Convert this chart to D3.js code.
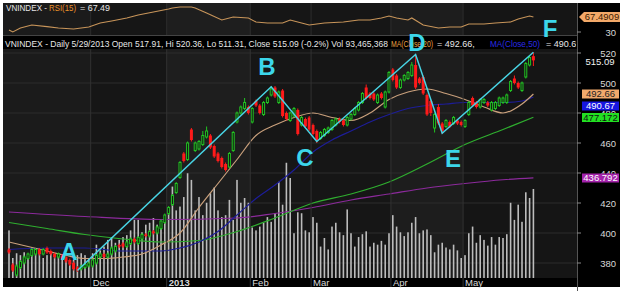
<!DOCTYPE html>
<html><head><meta charset="utf-8">
<script src="https://cdn.jsdelivr.net/npm/d3@7/dist/d3.min.js"></script>
<style>body{margin:0;background:#fff}svg{display:block}text{font-family:"Liberation Sans",Arial,sans-serif}</style>
</head><body>
<svg id="c" width="620" height="291"></svg>
<script>
// ---------- data ----------
const monthLabels = ["Nov","Dec","2013","Feb","Mar","Apr","May"];
const monthStart  = [0,22,42,64,80,101,120];
const priceTicks  = [380,400,420,440,460,480,500,520];

const openP = [389,379,372,377,380,383,385,386,389,386,390,388,386,384,385,384,382,380,377,376,377,378,
 378,380,384,386,384,386,388,392,393,391,393,396,393,396,399,398,401,400,403,407,
 413,419,427,437,453,449,469,455,456,459,464,465,458,453,450,446,444,455,474,480,483,484,
 474,488,485,479,487,492,497,487,495,480,475,478,482,472,476,477,
 472,468,463,465,467,469,472,476,475,472,476,479,482,487,497,493,493,487,493,484,494,
 509,505,497,502,503,505,512,503,504,492,488,470,484,473,471,474,473,475,474,
 471,479,490,487,484,487,487,482,483,485,487,487,495,503,500,495,504,512,517.91];
const closeP = [387,375,378,381,384,386,389,389,386,389,387,386,384,386,383,381,379,376,375,378,379,380,
 382,385,386,384,386,390,391,391,391,394,396,394,397,399,398,401,400,404,408,412,
 417,425,433,447,448,460,462,460,461,465,468,457,451,448,444,442,453,467,480,484,487,480,
 483,485,480,487,490,496,491,494,478,476,480,483,466,477,471,469,
 466,462,467,469,470,475,476,474,472,477,479,483,487,493,490,490,489,492,490,494,507,
 502,497,502,505,507,512,497,500,493,479,480,479,473,468,475,471,477,473,472,
 475,487,485,484,489,489,485,487,487,490,490,492,501,500,497,500,513,517,515.09];
const highP = [390,380,379,382,385,387,390,390,390,390,391,389,387,387,386,385,383,381,378,379,380,381,
 383,386,387,387,387,391,392,393,394,395,397,397,398,400,400,402,402,405,409,413,
 418,426,434,448,454,461,470,461,462,468,471,466,459,454,451,447,454,468,481,485,490,485,
 484,489,486,488,491,498,498,495,496,481,481,484,483,478,477,478,
 473,469,468,470,471,476,477,477,476,478,480,484,488,494,499,494,494,493,494,495,508,
 510,506,503,506,508,514,519,504,505,493,489,480,486,474,476,475,478,476,475,
 476,488,491,488,490,490,488,488,488,491,491,493,502,505,501,501,514,518,520.36];
const lowP = [386,374,371,376,379,382,384,385,385,385,386,385,383,383,382,380,378,375,374,375,376,377,
 377,379,383,383,383,385,387,390,390,390,392,393,392,395,397,397,399,399,402,406,
 412,418,426,436,447,448,461,454,455,458,463,456,450,447,443,441,443,454,473,479,482,479,
 473,484,479,478,486,491,490,486,477,475,474,477,465,471,470,468,
 465,460,462,464,466,468,471,473,471,471,475,478,481,486,489,489,488,486,489,483,493,
 501,496,496,501,502,504,496,499,492,478,478,467,472,466,470,470,472,472,471,
 470,478,484,483,483,486,484,481,482,484,486,486,494,499,496,494,503,511,511.31];
const volume = [50,21,26,24,27,24,32,27,29,21,24,26,24,26,21,19,14,19,24,26,24,21,
 26,35,29,33,40,43,37,40,43,45,50,61,61,48,56,58,63,56,59,59,
 71,96,71,75,85,110,103,71,85,66,79,89,95,71,64,66,82,61,103,79,84,79,
 53,50,54,58,64,59,68,101,77,121,105,47,69,68,50,48,
 64,58,33,42,30,54,58,48,45,72,47,33,43,46,49,33,37,35,39,35,47,
 66,54,48,44,48,58,64,47,50,51,45,27,35,37,32,30,35,29,21,
 24,47,54,37,45,40,34,43,35,43,42,46,79,61,77,59,90,84,93.47];

const ma20Idx = [0,5,10,15,20,25,30,35,40,45,50,55,60,65,70,75,80,85,90,95,100,105,110,115,120,125,130,135,138];
const ma20Val = [394,391,388,385,383,383,384,386,392,400,417,433,449,465,472,477,480,477,475,480,489,494,496,493,489,484,480,486,492.66];
const ma50Idx = [0,10,20,30,40,45,50,55,60,65,70,75,80,85,90,95,100,105,110,115,120,125,130,135,138];
const ma50Val = [389,390,390,388,388,390,394,401,412,423,432,442,454,462,468,474,479,483,485,486,487,487,487,488,490.67];
const ma100Idx = [0,10,20,30,40,50,60,70,80,90,100,110,120,130,138];
const ma100Val = [407,403,399,396,394,395,401,410,420,426,434,446,459,469,477.172];
const ma200Idx = [0,20,40,60,70,80,90,100,110,120,130,138];
const ma200Val = [414,411,409,410,413,417,422,426,430,433,435.5,436.792];

const rsiIdx = [0,1,3,6,10,13,17,21,24,27,31,34,38,42,43,45,48,49,52,56,59,63,65,68,72,74,77,79,83,88,92,95,98,100,102,105,106,109,113,116,119,121,125,128,132,134,137,138];
const rsiVal = [35,30,40,47.5,43.5,40,37.5,42.5,52.5,57.5,65,72.5,80,87.5,90,92.5,92.5,90,77.5,60,67.5,65,55,52.5,52.5,60,52.5,47.5,52.5,55,60,60,65,70,65,60,65,47.5,40,42.5,42.5,50,50,52.5,55,62.5,70,67.49];

const waveLabels = ["A","B","C","D","E","F"];
const waveIdx = [18,69,81,107,114,138];
const waveVal = [375,497.5,461,519,466.5,520.5];

// ---------- layout ----------
const svg = d3.select("#c");
const PL=3, PR=577, RT=3, RB=35, PT=49, PB=278, AB=287;
const x = d3.scaleLinear().domain([0,138]).range([9,533.4]);
const y = d3.scaleLinear().domain([380,520]).range([263,53]);
const yv = d3.scaleLinear().domain([0,105]).range([PB,178]);
const yr = d3.scaleLinear().domain([30,67.49]).range([32,17]);

svg.append("rect").attr("x",PL).attr("y",RT).attr("width",620-PL).attr("height",AB-RT).attr("fill","#000");

const defs = svg.append("defs");
defs.append("clipPath").attr("id","cp").append("rect").attr("x",PL).attr("y",PT).attr("width",PR-PL).attr("height",PB-PT);
defs.append("clipPath").attr("id","cr").append("rect").attr("x",PL).attr("y",RT).attr("width",PR-PL).attr("height",RB-RT);
defs.append("clipPath").attr("id","ch").append("rect").attr("x",PL).attr("y",RB).attr("width",PR-PL-1).attr("height",PT-RB);

// month bands
const bandFill = ["#1b1b1b","#161616","#1e1e1e","#161616","#161616","#1d1d1d","#151515"];
const bounds = monthStart.map((s,i)=> i===0 ? PL : x(s-0.5));
bounds.push(PR);
monthStart.forEach((s,i)=>{
  [[RT,RB-RT],[PT,PB-PT]].forEach(([yy,hh])=>{
    svg.append("rect").attr("x",bounds[i]).attr("y",yy).attr("width",bounds[i+1]-bounds[i]).attr("height",hh).attr("fill",bandFill[i]);
  });
});
// gridlines
const g = svg.append("g").attr("clip-path","url(#cp)");
priceTicks.forEach(t=>{
  g.append("line").attr("x1",PL).attr("x2",PR).attr("y1",y(t)).attr("y2",y(t)).attr("stroke","#2c2c2c").attr("stroke-width",1);
});
monthStart.slice(1).forEach(s=>{
  svg.append("line").attr("x1",x(s-0.5)).attr("x2",x(s-0.5)).attr("y1",RT).attr("y2",RB).attr("stroke","#2e2e2e");
  svg.append("line").attr("x1",x(s-0.5)).attr("x2",x(s-0.5)).attr("y1",PT).attr("y2",AB).attr("stroke","#333");
});

// volume
g.selectAll("rect.v").data(volume).join("rect").attr("class","v")
  .attr("x",(d,i)=>x(i)-0.8).attr("width",1.6)
  .attr("y",d=>yv(d)).attr("height",d=>PB-yv(d)).attr("fill","#bcbcbc");

// moving averages
const line = d3.line().x(d=>x(d[0])).y(d=>y(d[1])).curve(d3.curveMonotoneX);
const mas = [[ma200Idx,ma200Val,"#8c2a9c"],[ma100Idx,ma100Val,"#2fae2f"],[ma50Idx,ma50Val,"#1d1d98"],[ma20Idx,ma20Val,"#c9a07c"]];
mas.forEach(([ix,vv,c])=>{
  g.append("path").datum(ix.map((d,k)=>[d,vv[k]])).attr("d",line).attr("fill","none").attr("stroke",c).attr("stroke-width",1.2);
});

// candles
const up = "#22c322", dn = "#ff1a1a";
openP.forEach((o,i)=>{
  const c = closeP[i], isUp = c>=o, col = isUp?up:dn;
  g.append("line").attr("x1",x(i)).attr("x2",x(i)).attr("y1",y(highP[i])).attr("y2",y(lowP[i])).attr("stroke",col).attr("stroke-width",1);
  const top = y(Math.max(o,c)), bot = y(Math.min(o,c));
  if(isUp){
    g.append("rect").attr("x",x(i)-1).attr("y",top).attr("width",2).attr("height",Math.max(1,bot-top)).attr("fill","#111").attr("stroke",col).attr("stroke-width",1);
  } else {
    g.append("rect").attr("x",x(i)-1.5).attr("y",top).attr("width",3).attr("height",Math.max(1.5,bot-top)).attr("fill",col);
  }
});

// wave pattern
const wv = waveIdx.map((d,k)=>[d,waveVal[k]]);
svg.append("path").datum(wv).attr("d",d3.line().x(d=>x(d[0])).y(d=>y(d[1]))).attr("fill","none").attr("stroke","#48d4e4").attr("stroke-width",1.5);

// RSI
const rg = svg.append("g").attr("clip-path","url(#cr)");
rg.append("path").datum(rsiIdx.map((d,k)=>[d,rsiVal[k]]))
  .attr("d",d3.line().x(d=>x(d[0])).y(d=>yr(d[1])))
  .attr("fill","none").attr("stroke","#c8955a").attr("stroke-width",1.1);
svg.append("line").attr("x1",PL).attr("x2",PR).attr("y1",RB+0.5).attr("y2",RB+0.5).attr("stroke","#444");

// header band
svg.append("rect").attr("x",PL).attr("y",RB+1).attr("width",PR-PL).attr("height",PT-RB-1).attr("fill","#000");
const hg = svg.append("g").attr("clip-path","url(#ch)").attr("font-size","9px");
const hdr = [
 ["VNINDEX - Daily 5/29/2013 Open 517.91, Hi 520.36, Lo 511.31, Close 515.09 (-0.2%) Vol 93,465,368",5,383,"#e6e6e6"],
 ["MA(Close,20)",391,42,"#e8a040"],
 ["= 492.66,",437,null,"#e6e6e6"],
 ["MA(Close,50)",490,50,"#2a2ae6"],
 ["= 490.67",546,null,"#e6e6e6"]];
hdr.forEach(([t,xx,tl,c])=>{
  const e = hg.append("text").attr("x",xx).attr("y",46.5).attr("fill",c).text(t);
  if(tl) e.attr("textLength",tl).attr("lengthAdjust","spacingAndGlyphs");
});
const rl = [["VNINDEX - ",6,41,"#e6e6e6"],["RSI(15)",49,27,"#e8902a"],["= 67.49",80,30,"#e6e6e6"]];
rl.forEach(([t,xx,tl,c])=>{
  svg.append("text").attr("x",xx).attr("y",11).attr("font-size","9px").attr("fill",c).attr("textLength",tl).attr("lengthAdjust","spacingAndGlyphs").text(t);
});

// wave letters
const lblPos = [[69,260],[267,75],[305,166],[417,51],[453,167],[550,37]];
waveLabels.forEach((l,k)=>{
  svg.append("text").attr("x",lblPos[k][0]).attr("y",lblPos[k][1]).attr("text-anchor","middle")
   .attr("font-size","24px").attr("font-weight","bold").attr("fill","#3cd6ea").text(l);
});

// right axis
svg.append("line").attr("x1",PR+0.5).attr("x2",PR+0.5).attr("y1",RT).attr("y2",291).attr("stroke","#555");
priceTicks.forEach(t=>{
  svg.append("line").attr("x1",PR).attr("x2",PR+4).attr("y1",y(t)).attr("y2",y(t)).attr("stroke","#888");
  svg.append("text").attr("x",616).attr("y",y(t)+3.5).attr("text-anchor","end").attr("font-size","9.5px").attr("fill","#d8d8d8").text(t);
});
svg.append("line").attr("x1",PR).attr("x2",PR+4).attr("y1",yr(30)).attr("y2",yr(30)).attr("stroke","#888");
svg.append("text").attr("x",616).attr("y",yr(30)+3.5).attr("text-anchor","end").attr("font-size","9.5px").attr("fill","#d8d8d8").text("30");
svg.append("text").attr("x",600).attr("y",y(515.09)+4.5).attr("text-anchor","middle").attr("font-size","9.5px").attr("fill","#f0f0f0").text("515.09");

const boxes = [[492.66,94,"#f2aa6c","#222","492.66"],[490.67,106,"#1616e0","#fff","490.67"],[477.172,117.5,"#22e022","#111","477.172"],[436.792,178,"#a322aa","#fff","436.792"]];
boxes.forEach(([v,cy,bg,fg,t])=>{
  svg.append("rect").attr("x",582).attr("y",cy-4.5).attr("width",37).attr("height",9).attr("fill",bg);
  svg.append("text").attr("x",600.5).attr("y",cy+3.3).attr("text-anchor","middle").attr("font-size","9.5px").attr("fill",fg).text(t);
});
// RSI value flag
const ry = yr(67.49);
svg.append("path").attr("d",`M579,${ry} L584,${ry-5} L620,${ry-5} L620,${ry+5} L584,${ry+5} Z`).attr("fill","#f2a868");
svg.append("text").attr("x",602).attr("y",ry+3.3).attr("text-anchor","middle").attr("font-size","9.5px").attr("fill","#3a1a00").text("67.4909");

// x axis labels
monthStart.forEach((s,i)=>{
  if(i===0) return;
  svg.append("text").attr("x",x(s-0.5)+2).attr("y",286).attr("font-size","9.5px")
    .attr("font-weight",monthLabels[i]==="2013"?"bold":"normal").attr("fill","#d8d8d8").text(monthLabels[i]);
});
</script>
</body></html>
